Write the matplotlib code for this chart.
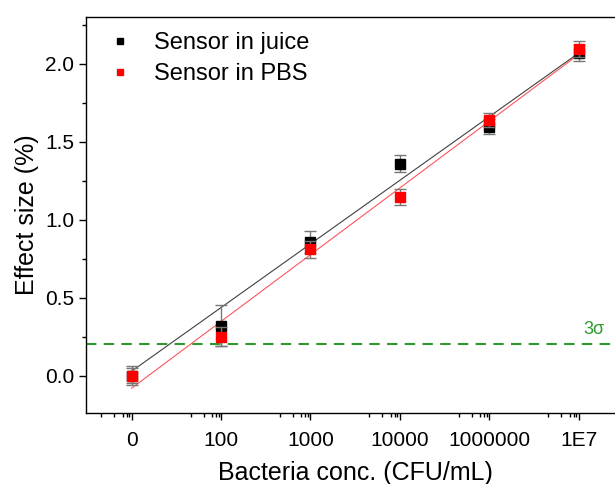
import numpy as np
import matplotlib.pyplot as plt
from matplotlib.lines import Line2D
from matplotlib.ticker import MultipleLocator

plt.rcParams['font.family'] = ['Liberation Sans', 'DejaVu Sans']

# date
conc_labels = ['0', '100', '1000', '10000', '1000000', '1E7']
juice = [0.0, 0.32, 0.855, 1.36, 1.597, 2.07]
juice_err = [0.06, 0.13, 0.07, 0.056, 0.047, 0.05]
pbs = [0.0, 0.25, 0.81, 1.147, 1.641, 2.096]
pbs_err = [0.05, 0.06, 0.055, 0.052, 0.045, 0.05]
juice_fit = (0.408, 0.028)   # panta, interceptie
pbs_fit = (0.428, -0.081)
threshold = 0.2

x = np.arange(len(conc_labels))

fig = plt.figure(figsize=(6.15, 4.84), dpi=100)
ax = fig.add_axes([86 / 615, 71 / 484, 539 / 615, 396 / 484])

# linii de regresie
xf = np.array([x[0], x[-1]])
ax.plot(xf, juice_fit[0] * xf + juice_fit[1], color='#404040', lw=0.8, zorder=2)
ax.plot(xf, pbs_fit[0] * xf + pbs_fit[1], color='#ff5555', lw=0.8, zorder=2)

# puncte cu bare de eroare
ax.errorbar(x, juice, yerr=juice_err, fmt='s', color='black', ms=7,
            ecolor='#777777', elinewidth=1, capsize=4, capthick=1, zorder=3)
ax.errorbar(x, pbs, yerr=pbs_err, fmt='s', color='red', ms=7,
            ecolor='#777777', elinewidth=1, capsize=4, capthick=1, zorder=4)

# pragul 3 sigma
ax.axhline(threshold, color='#2e9a2e', lw=1.5, ls=(0, (5, 3.5)), zorder=1)
ax.text(5.17, threshold + 0.04, '3σ', color='#2e9a2e', fontsize=13,
        ha='center', va='bottom')

ax.set_xlim(-0.51, 5.52)
ax.set_ylim(-0.24, 2.3)
ax.set_xticks(x)
ax.set_xticklabels(conc_labels)
minor = [i + d for i in x for d in (-0.34, -0.195, -0.10, -0.056, -0.027)]
ax.set_xticks(minor, minor=True)
ax.yaxis.set_major_locator(MultipleLocator(0.5))
ax.yaxis.set_minor_locator(MultipleLocator(0.25))
ax.yaxis.set_major_formatter(plt.FormatStrFormatter('%.1f'))

ax.tick_params(which='major', direction='out', length=5, width=1, labelsize=15)
ax.tick_params(axis='x', which='major', pad=8)
ax.tick_params(which='minor', direction='out', length=3, width=1)
ax.tick_params(top=False, right=False, which='both')
for s in ax.spines.values():
    s.set_linewidth(1)

ax.set_xlabel('Bacteria conc. (CFU/mL)', fontsize=18, labelpad=8)
ax.set_ylabel('Effect size (%)', fontsize=18, labelpad=4)

handles = [Line2D([], [], ls='none', marker='s', color='black', ms=5),
           Line2D([], [], ls='none', marker='s', color='red', ms=5)]
ax.legend(handles, ['Sensor in juice', 'Sensor in PBS'], loc='upper left',
          bbox_to_anchor=(22 / 539, 0.962), frameon=False, fontsize=17,
          handlelength=1.0, handletextpad=0.94, borderaxespad=0, borderpad=0,
          labelspacing=0.4)

fig.savefig('out.png', dpi=100)
